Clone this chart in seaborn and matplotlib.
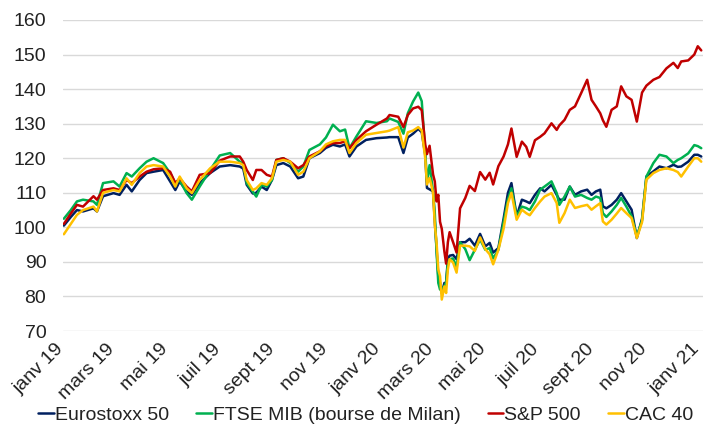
import pandas as pd
import numpy as np
import matplotlib
matplotlib.use("Agg")
import matplotlib.pyplot as plt
import matplotlib.transforms as mtransforms
import seaborn as sns

# jours écoulés depuis le 1er janvier 2019
jours = [1, 9, 16, 23, 35, 39, 46, 58, 65, 73, 79, 88, 96, 104, 115, 123, 129, 134, 142, 148,
         157, 169, 180, 192, 203, 207, 211, 218, 222, 228, 234, 240, 245, 253, 261, 270, 276, 283, 295, 302,
         310, 318, 324, 329, 337, 348, 360, 372, 375, 385, 391, 396, 402, 408, 412, 416, 418, 421, 425, 427,
         429, 431, 433, 435, 438, 440, 442, 444, 448, 452, 456, 462, 467, 473, 479, 485, 490, 494, 500, 506,
         511, 515, 521, 527, 532, 536, 542, 548, 553, 561, 567, 570, 576, 582, 588, 595, 602, 607, 612, 617,
         620, 624, 630, 636, 641, 647, 653, 659, 665, 670, 678, 685, 693, 701, 706, 710, 718, 725, 729, 733]

eurostoxx = [100.5, 103, 105, 104.6, 105.5, 104.6, 109, 109.9, 109.4, 112.3, 110.4, 113.7, 115.7, 116.1, 116.6, 113.3, 110.8, 113.3, 110.4, 109.4,
             112.8, 115.7, 117.6, 118, 117.6, 117, 112.3, 109.8, 110, 111.8, 110.8, 113.7, 118, 118.6, 117.6, 114.2, 114.7, 120, 121.5, 123,
             123.9, 123.4, 124, 120.5, 123.4, 125.3, 125.8, 126, 126.1, 126.1, 121.5, 126, 127.1, 128.5, 127.5, 121, 111.4, 111, 110.4, 101.6,
             94, 86, 84, 81, 83.9, 84, 90.8, 91.8, 92, 90.8, 95.7, 95.7, 96.7, 94.7, 98.1, 94.5, 95.5, 92.7, 94, 102.5,
             110, 112.8, 103.2, 108, 107.5, 107, 109.4, 111.3, 110.4, 112.3, 109.4, 108, 108, 111.8, 109.4, 110.4, 110.9, 109.4, 110.4, 110.9,
             106.1, 105.5, 106.5, 108, 109.9, 107.5, 105.1, 96.9, 102.5, 114.7, 116.2, 117.6, 117.1, 118.1, 117.5, 117.6, 119, 121, 121, 120.5]

ftse_mib = [102.5, 105, 107.5, 108, 107.5, 106.5, 112.8, 113.3, 111.8, 115.7, 114.7, 117.1, 119, 120, 118.6, 115.7, 112.8, 113.7, 109.9, 108,
            111.8, 116.6, 120.8, 121.5, 119, 118.5, 112.8, 110.3, 108.9, 112.3, 111.8, 113.7, 119.5, 120, 118.6, 116.1, 117.6, 122.4, 124, 126,
            129.7, 127.8, 128.3, 122.9, 126.3, 130.7, 130.2, 130.7, 131.5, 130.5, 127.1, 133, 136.4, 139, 136.5, 122, 113.3, 118, 110.4, 104,
            93, 83.9, 82, 82, 83, 84, 89.8, 90.8, 91, 88.5, 95.7, 93.7, 90.5, 93.5, 96.5, 93.5, 94, 91, 93.5, 101.5,
            108, 111.3, 103.2, 106, 105.6, 105, 107.5, 110.9, 111.8, 113.3, 109.9, 106.5, 108.9, 111.8, 108.9, 109.4, 108.5, 108, 108.9, 108.5,
            104.1, 103, 104.6, 106.5, 108.5, 106, 103.2, 97.4, 102, 114.7, 118.6, 121, 120.5, 118.6, 119.5, 120, 121.4, 123.8, 123.5, 122.9]

sp500 = [101, 104, 106.5, 106, 109, 108, 110.8, 111.3, 110.8, 113.7, 112.8, 114.7, 116.1, 116.8, 117.1, 116.1, 112.8, 114.2, 111.8, 110.4,
         115.2, 115.7, 119.3, 120.5, 120.5, 119, 116.6, 113.7, 116.6, 116.6, 115.2, 114.7, 119.5, 120, 119, 117.1, 118, 120.5, 122, 123.5,
         124.4, 124.4, 124.9, 122.9, 125.3, 127.8, 129.7, 131.5, 132.5, 132, 129, 132.5, 134.4, 134.9, 133.9, 124, 121.2, 123.6, 115.3, 113.3,
         107.5, 109.4, 101.6, 99.6, 93, 89.5, 95.7, 98.6, 95.7, 92.7, 105.5, 108.5, 112, 110.5, 116, 113.8, 115.8, 112.4, 117.7, 120.5,
         124, 128.6, 120.4, 124.8, 123.3, 120.4, 125.2, 126.2, 127.2, 130.1, 128.2, 129.5, 131.1, 134, 135, 138.8, 142.7, 136.9, 135, 133,
         131, 129.1, 134, 135, 140.8, 137.9, 136.9, 130.6, 139, 141, 142.7, 143.5, 146, 147.6, 146.1, 148, 148.3, 150, 152.4, 151.2]

cac40 = [98, 101, 103.6, 105, 106, 104.6, 110, 110.8, 110.4, 114.2, 112.3, 115.7, 117.6, 118, 117.6, 114.7, 111.8, 114.7, 111.3, 109.9,
         113.7, 117.1, 119, 119, 118.6, 118, 113.7, 110.8, 111.3, 112.8, 112.3, 114.2, 119, 119.5, 119, 115.2, 116.1, 120, 122, 124,
         124.9, 125.3, 125.3, 121.5, 124.4, 126.8, 127.3, 127.8, 128, 129, 123.1, 127.5, 128, 129, 128, 120, 112.4, 114.3, 110, 100.6,
         95.7, 87.8, 85.9, 79.1, 82.9, 81, 87.8, 90.8, 89.8, 86.9, 94.7, 94.7, 94.5, 93.2, 97.1, 93.7, 92.2, 89.3, 93.5, 99.6,
         107, 110, 102.2, 105.1, 104.1, 103.5, 105.6, 107.5, 108.9, 109.9, 107, 101.3, 104.1, 108, 105.6, 106.1, 106.5, 105.1, 106.1, 107,
         101.7, 100.8, 102.2, 104, 105.6, 104.1, 102.7, 96.9, 101.5, 113.8, 115.7, 116.6, 117.1, 116.6, 116, 114.7, 117.6, 120, 120, 119]

noms = ["Eurostoxx 50", "FTSE MIB (bourse de Milan)", "S&P 500", "CAC 40"]
couleurs = ["#002060", "#00B050", "#C00000", "#FFC000"]

tick_dates = pd.date_range("2019-01-01", "2021-01-01", freq="2MS")
tick_labels = ["janv 19", "mars 19", "mai 19", "juil 19", "sept 19", "nov 19", "janv 20",
               "mars 20", "mai 20", "juil 20", "sept 20", "nov 20", "janv 21"]

dates = pd.Timestamp("2019-01-01") + pd.to_timedelta(jours, unit="D")
df = pd.DataFrame({"date": dates, noms[0]: eurostoxx, noms[1]: ftse_mib,
                   noms[2]: sp500, noms[3]: cac40})
long = df.melt(id_vars="date", var_name="indice", value_name="valeur")

sns.set_style("white")
plt.rcParams["font.family"] = ["Liberation Sans", "DejaVu Sans"]

fig, ax = plt.subplots(figsize=(7.03, 4.29), dpi=100)
fig.subplots_adjust(left=0.0896, right=1.0, top=0.9534, bottom=0.2284)

sns.lineplot(data=long, x="date", y="valeur", hue="indice", hue_order=noms,
             palette=couleurs, linewidth=1.8, ax=ax)

ax.set_ylim(70, 160)
ax.set_yticks(range(70, 161, 10))
ax.set_xlim(pd.Timestamp("2019-01-01"), pd.Timestamp("2021-01-05"))
ax.set_xticks(tick_dates)
ax.set_xticklabels(tick_labels, rotation=45, ha="right", rotation_mode="anchor")
ax.tick_params(axis="both", length=0, labelsize=14, labelcolor="#222222")
ax.tick_params(axis="y", pad=12)
ax.tick_params(axis="x", pad=7)
# décaler un peu les dates vers la gauche pour que "janv 21" reste dans l'image
offset = mtransforms.ScaledTranslation(-6 / 72, 0, fig.dpi_scale_trans)
for lab in ax.get_xticklabels():
    lab.set_transform(lab.get_transform() + offset)
ax.set_xlabel("")
ax.set_ylabel("")
ax.grid(axis="y", color="#d9d9d9", linewidth=1.0)
ax.grid(axis="x", visible=False)
ax.set_axisbelow(True)
for s in ax.spines.values():
    s.set_visible(False)

handles, labels = ax.get_legend_handles_labels()
ax.get_legend().remove()
fig.legend(handles, labels, loc="center", bbox_to_anchor=(0.52, 0.033), ncol=4,
           frameon=False, fontsize=14, handlelength=0.8, handletextpad=0.05,
           columnspacing=1.4, labelcolor="#222222")

fig.savefig("out.png", dpi=100)
